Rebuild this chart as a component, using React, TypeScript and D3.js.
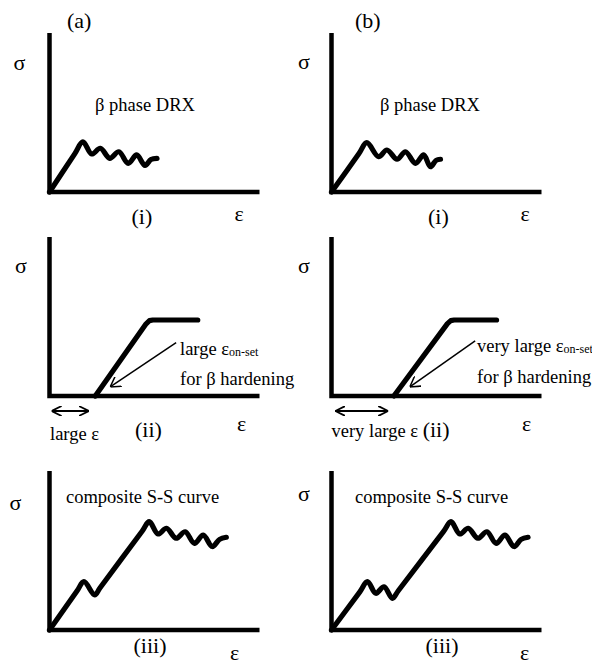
import React from 'react';
import * as d3 from 'd3';

type Pt = [number, number];

// labels
const columnLabels = ['(a)', '(b)'];
const rowLabels = ['(i)', '(ii)', '(iii)'];

// (i) beta phase DRX stress-strain curves, [strain, stress] in schematic units (0-100)
const drxCurveA: Pt[] = [
  [0, 0], [12, 24], [15.9, 31.6], [20.1, 23.9], [24.2, 27.5], [28.7, 21.2], [33, 25.3],
  [37.5, 18], [41.5, 23.3], [45.5, 16.7], [48.3, 20.4], [51.2, 21.1],
];
const drxCurveB: Pt[] = [
  [0, 0], [13, 24], [16.8, 31], [22.4, 22.2], [26.4, 26.4], [31.2, 20.6], [35.2, 25.3],
  [40, 18], [43.9, 23.3], [47.1, 15.9], [49.8, 19.9], [51.9, 20.6],
];

// (ii) beta hardening curves
const hardCurveA: Pt[] = [[21.8, 0], [46, 45.4], [47.6, 47.4], [49.2, 47.8], [70.6, 47.8]];
const hardCurveB: Pt[] = [[29.7, 0], [55.2, 45.5], [56.8, 47.4], [58.4, 47.8], [78.6, 47.8]];
// on-set pointer arrows: [from, to]
const onsetArrowA: Pt[] = [[60.3, 33.6], [28.9, 5.7]];
const onsetArrowB: Pt[] = [[68.4, 34.6], [37.3, 5.7]];
// strain span before on-set
const strainSpanA = [1, 18.7];
const strainSpanB = [1.8, 27];

// (iii) composite curves
const compCurveA: Pt[] = [
  [0, 0], [13, 24.3], [16.4, 30.4], [21.5, 22], [24.1, 26.6], [44.1, 62.1], [47.5, 68.1],
  [51.7, 60.4], [55.7, 64], [60.3, 57.7], [64.6, 61.8], [69, 54.5], [73.2, 59.7],
  [77.5, 52.5], [81, 57], [84.2, 58.3],
];
const compCurveB: Pt[] = [
  [0, 0], [13.5, 24], [17.1, 30.4], [21.1, 23.1], [25, 27.2], [29, 19.9], [31.8, 24.7],
  [53.3, 61.9], [56.9, 68.1], [61.1, 60.4], [65.1, 64], [69.7, 57.7], [74, 61.8],
  [78.4, 54.5], [82.6, 59.7], [86.9, 52.5], [90.3, 57], [93.6, 58.3],
];

const axisFrame: Pt[] = [[0, 100], [0, 0], [100, 0]];

const W = 592;
const H = 666;
const serif = '"Liberation Serif", "Times New Roman", Times, serif';
const colX = [49.5, 331.5];
const rowY = [192, 396, 630];

const x = d3.scaleLinear().domain([0, 100]).range([0, 210]);
const y = d3.scaleLinear().domain([0, 100]).range([0, -159]);

const straight = d3.line<Pt>().x(d => x(d[0])).y(d => y(d[1]));
const wavy = d3.line<Pt>().x(d => x(d[0])).y(d => y(d[1])).curve(d3.curveCatmullRom.alpha(0.5));

const Axes = () => (
  <path d={straight(axisFrame) || ''} fill="none" stroke="#000" strokeWidth={4.5} strokeLinejoin="miter" />
);

const Curve = ({ d }: { d: string | null }) => (
  <path d={d || ''} fill="none" stroke="#000" strokeWidth={5.2} strokeLinecap="round" strokeLinejoin="round" />
);

const big = 22;
const small = 18.5;

const App = () => {
  const panel = (c: number, r: number, children: React.ReactNode) => (
    <g key={`${c}-${r}`} transform={`translate(${colX[c]},${rowY[r]})`}>{children}</g>
  );

  return (
    <svg
      width={W}
      height={H}
      style={{ position: 'absolute', left: 0, top: 0, background: '#fff', fontFamily: serif }}
    >
      <defs>
        <marker id="head" viewBox="0 0 10 12" refX={10} refY={6} markerWidth={10} markerHeight={12}
          markerUnits="userSpaceOnUse" orient="auto">
          <path d="M0,0 L10,6 L0,12" fill="none" stroke="#000" strokeWidth={1.5} />
        </marker>
        <marker id="dhead" viewBox="0 0 10 10" refX={10} refY={5} markerWidth={10} markerHeight={10}
          markerUnits="userSpaceOnUse" orient="auto-start-reverse">
          <path d="M0,0 L10,5 L0,10" fill="none" stroke="#000" strokeWidth={1.8} />
        </marker>
      </defs>

      <text x={67} y={28} fontSize={big}>{columnLabels[0]}</text>
      <text x={355} y={28} fontSize={big}>{columnLabels[1]}</text>

      {/* row (i) */}
      {panel(0, 0, <>
        <Axes />
        <Curve d={wavy(drxCurveA)} />
        <text x={-36} y={-122} fontSize={big}>σ</text>
        <text x={45.5} y={-81} fontSize={small}>β phase DRX</text>
        <text x={82} y={32} fontSize={big}>{rowLabels[0]}</text>
        <text x={185} y={29} fontSize={big}>ε</text>
      </>)}
      {panel(1, 0, <>
        <Axes />
        <Curve d={wavy(drxCurveB)} />
        <text x={-33.5} y={-123} fontSize={big}>σ</text>
        <text x={48.5} y={-81} fontSize={small}>β phase DRX</text>
        <text x={96.5} y={32} fontSize={big}>{rowLabels[0]}</text>
        <text x={189} y={29} fontSize={big}>ε</text>
      </>)}

      {/* row (ii) */}
      {panel(0, 1, <>
        <Axes />
        <Curve d={straight(hardCurveA)} />
        <path d={straight(onsetArrowA) || ''} stroke="#000" strokeWidth={1.5} fill="none" markerEnd="url(#head)" />
        <line x1={x(strainSpanA[0])} x2={x(strainSpanA[1])} y1={15} y2={15} stroke="#000" strokeWidth={1.8}
          markerStart="url(#dhead)" markerEnd="url(#dhead)" />
        <text x={-34.5} y={-123} fontSize={big}>σ</text>
        <text x={130.5} y={-41.3} fontSize={small}>large ε<tspan fontSize={12} dy={1.5}>on-set</tspan></text>
        <text x={130.5} y={-11.5} fontSize={small}>for β hardening</text>
        <text x={0.5} y={44} fontSize={small}>large ε</text>
        <text x={85.5} y={41} fontSize={big}>{rowLabels[1]}</text>
        <text x={187.5} y={35} fontSize={big}>ε</text>
      </>)}
      {panel(1, 1, <>
        <Axes />
        <Curve d={straight(hardCurveB)} />
        <path d={straight(onsetArrowB) || ''} stroke="#000" strokeWidth={1.5} fill="none" markerEnd="url(#head)" />
        <line x1={x(strainSpanB[0])} x2={x(strainSpanB[1])} y1={15} y2={15} stroke="#000" strokeWidth={1.8}
          markerStart="url(#dhead)" markerEnd="url(#dhead)" />
        <text x={-33.5} y={-123} fontSize={big}>σ</text>
        <text x={145.5} y={-44.3} fontSize={small}>very large ε<tspan fontSize={12} dy={1.5}>on-set</tspan></text>
        <text x={145.5} y={-13} fontSize={small}>for β hardening</text>
        <text x={0} y={41} fontSize={small}>very large ε <tspan fontSize={big}>{rowLabels[1]}</tspan></text>
        <text x={190.5} y={35} fontSize={big}>ε</text>
      </>)}

      {/* row (iii) */}
      {panel(0, 2, <>
        <Axes />
        <Curve d={wavy(compCurveA)} />
        <text x={-40} y={-120} fontSize={big}>σ</text>
        <text x={16.5} y={-126.6} fontSize={small}>composite S-S curve</text>
        <text x={84} y={23} fontSize={big}>{rowLabels[2]}</text>
        <text x={180.5} y={30} fontSize={big}>ε</text>
      </>)}
      {panel(1, 2, <>
        <Axes />
        <Curve d={wavy(compCurveB)} />
        <text x={-33.5} y={-129} fontSize={big}>σ</text>
        <text x={23.5} y={-126.6} fontSize={small}>composite S-S curve</text>
        <text x={94} y={23} fontSize={big}>{rowLabels[2]}</text>
        <text x={188.5} y={30} fontSize={big}>ε</text>
      </>)}
    </svg>
  );
};

export default App;
